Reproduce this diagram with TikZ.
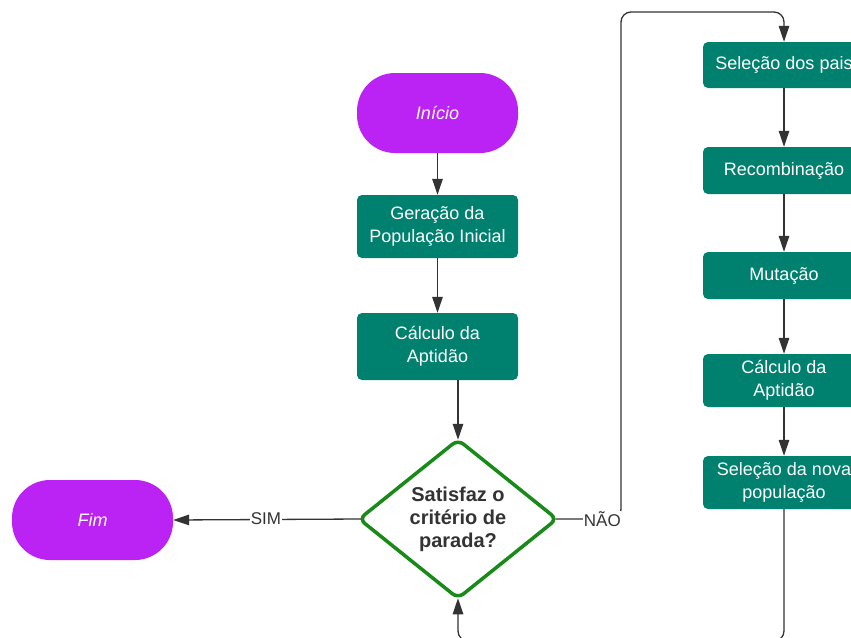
\documentclass[tikz,border=0pt]{standalone}
\usepackage{fontspec}
\setmainfont{Liberation Sans}
\usetikzlibrary{arrows.meta,shapes.geometric}
\definecolor{startpurple}{HTML}{BB22F4}
\definecolor{procteal}{HTML}{00806E}
\definecolor{decgreen}{HTML}{188A18}
\definecolor{linegray}{HTML}{333333}
\tikzset{
  terminal/.style={fill=startpurple, draw=none, rounded corners=38pt, minimum width=161pt, minimum height=80pt, inner sep=0pt, text=white, font=\fontsize{18}{23}\selectfont\itshape},
  procbox/.style={fill=procteal, draw=none, rounded corners=5pt, inner sep=0pt, text=white, align=center, font=\fontsize{18}{23}\selectfont},
  decbox/.style={shape=diamond, draw=decgreen, line width=3.5pt, fill=white, rounded corners=7pt, minimum width=199pt, minimum height=160pt, inner sep=0pt},
  conn/.style={draw=linegray, line width=1.3pt, -{Triangle[length=16pt,width=10.5pt]}, rounded corners=10pt},
  lbl/.style={fill=white, text=linegray, inner sep=1pt, font=\fontsize{17}{20}\selectfont},
}
\begin{document}
\begin{tikzpicture}[x=1pt,y=-1pt]
\useasboundingbox (0,0) rectangle (851,637);
\begin{scope}
\clip (0,0) rectangle (851,637);
% left column
\node[terminal] (ini) at (437.5,113) {Início};
\node[procbox, minimum width=161pt, minimum height=63pt] (ger) at (437.5,226.5) {Geração da\\População Inicial};
\node[procbox, minimum width=161pt, minimum height=67pt] (calc) at (437.5,346.5) {Cálculo da\\Aptidão};
\node[decbox] (dec) at (458,519) {};
\node[text=linegray, align=center, font=\fontsize{20}{23}\selectfont\bfseries] (dectxt) at (dec.center) {Satisfaz o\\critério de\\parada?};
\node[terminal] (fim) at (92.5,520) {Fim};
% right column
\node[procbox, minimum width=162pt, minimum height=46pt] (sel) at (784,65) {Seleção dos pais};
\node[procbox, minimum width=162pt, minimum height=47pt] (rec) at (784,170.5) {Recombinação};
\node[procbox, minimum width=162pt, minimum height=47pt] (mut) at (784,275.5) {Mutação};
\node[procbox, minimum width=162pt, minimum height=53pt] (calc2) at (784,380.5) {Cálculo da\\Aptidão};
\node[procbox, minimum width=162pt, minimum height=53pt] (nova) at (784,482.5) {Seleção da nova\\população};
% connectors
\draw[conn] (ini) -- (ger);
\draw[conn] (ger) -- (calc);
\draw[conn] (calc.south -| dec.north) -- ([yshift=-2.5pt]dec.north);
\draw[conn] ([xshift=4pt]dec.west) -- (fim.east);
\node[lbl] (sim) at (266,519) {SIM};
\coordinate (topleft) at (621,12);
\draw[conn] ([xshift=-4pt]dec.east) -- (dec.east -| topleft) -- (topleft) -- (topleft -| sel.north) -- (sel.north);
\node[lbl, anchor=east, inner sep=0.5pt] (nao) at (621.5,519) {NÃO};
\draw[conn] (sel) -- (rec);
\draw[conn] (rec) -- (mut);
\draw[conn] (mut) -- (calc2);
\draw[conn] (calc2) -- (nova);
\coordinate (botright) at (784,641);
\draw[conn] (nova.south) -- (botright) -- (botright -| dec.south) -- ([yshift=2.5pt]dec.south);
\end{scope}
\end{tikzpicture}
\end{document}
